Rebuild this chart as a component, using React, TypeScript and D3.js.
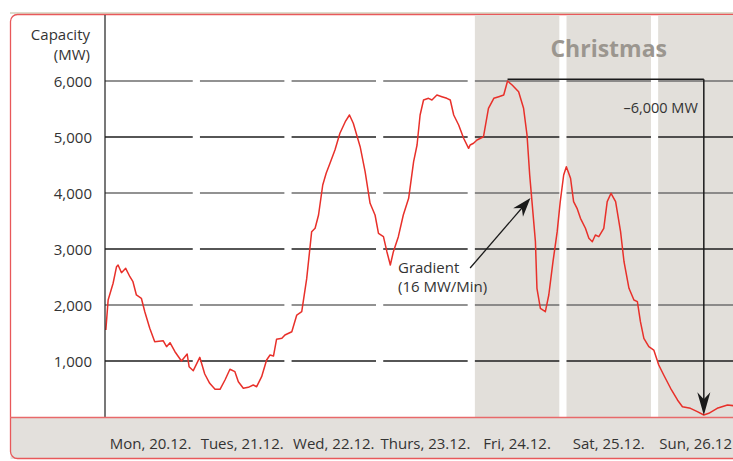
import React from 'react';
import * as d3 from 'd3';

// hours since Mon 20.12. 00:00
const hours = [
  0.3, 0.9, 2.2, 3.1, 3.5, 4.4, 5.5, 6.6, 7.4, 8.3, 9.6, 10.5, 11.8, 13.1, 15.3, 16.2, 17.1, 18.4,
  20.1, 21.6, 22.1, 23.2, 24.9, 26.2, 27.5, 28.9, 30.2, 31.5, 32.8, 34.1, 35.0, 36.3, 37.6, 38.9,
  39.8, 41.1, 42.4, 43.3, 44.2, 45.0, 46.4, 47.2, 49.0, 50.3, 51.6, 52.9, 54.2, 55.1, 56.0, 57.1,
  58.0, 59.0, 60.3, 61.6, 63.0, 64.1, 65.1, 66.9, 68.2, 69.5, 70.8, 71.7, 73.0, 73.9, 74.8, 75.6,
  76.9, 78.2, 79.6, 80.9, 81.8, 82.6, 83.5, 84.8, 85.7, 87.0, 88.3, 89.6, 90.5, 91.4, 92.7, 94.0,
  95.3, 95.7, 96.6, 97.5, 99.2, 100.5, 101.9, 103.2, 104.5, 105.5, 106.7, 108.4, 109.7, 110.6,
  111.3, 111.9, 112.8, 113.2, 114.1, 115.4, 116.3, 117.4, 118.5, 119.3, 120.2, 120.9, 122.0,
  122.8, 123.7, 124.6, 125.9, 126.8, 127.7, 128.5, 129.4, 130.7, 131.6, 132.6, 133.8, 135.1,
  136.0, 137.3, 138.6, 139.5, 140.3, 141.2, 142.5, 143.8, 145.1, 146.4, 148.2, 150.0, 151.3,
  153.4, 155.2, 156.9, 158.2, 160.4, 163.1, 164.7,
];

const capacityMW = [
  1554, 2089, 2388, 2684, 2714, 2577, 2655, 2505, 2416, 2179, 2120, 1880, 1584, 1345, 1363, 1255, 1327, 1166,
  1000, 1125, 898, 827, 1066, 768, 602, 495, 495, 661, 852, 809, 630, 513, 530, 571,
  541, 720, 1018, 1107, 1089, 1388, 1405, 1464, 1523, 1821, 1880, 2470, 3309, 3370, 3607, 4143,
  4352, 4530, 4768, 5066, 5273, 5393, 5245, 4827, 4380, 3816, 3607, 3280, 3220, 2952, 2714, 2952,
  3220, 3607, 3905, 4559, 4857, 5393, 5661, 5691, 5661, 5750, 5720, 5691, 5661, 5393, 5214, 4977,
  4798, 4857, 4888, 4946, 5005, 5512, 5691, 5720, 5750, 6000, 5929, 5809, 5512, 5036,
  4321, 3845, 3130, 2298, 1941, 1880, 2179, 2773, 3309, 3845, 4321, 4470, 4263,
  3845, 3727, 3548, 3370, 3191, 3130, 3250, 3220, 3370, 3845, 3995, 3845, 3309,
  2773, 2298, 2089, 2059, 1702, 1405, 1255, 1196, 929, 750, 513, 304, 184,
  155, 95, 36, 66, 155, 214, 202,
];

const dayLabels = ['Mon, 20.12.', 'Tues, 21.12.', 'Wed, 22.12.', 'Thurs, 23.12.', 'Fri, 24.12.', 'Sat, 25.12.', 'Sun, 26.12'];
const christmasDays = [4, 5, 6];
const yTicks = [1000, 2000, 3000, 4000, 5000, 6000];

// annotations
const dropStartHour = 105.5;
const dropEndHour = 156.9;
const dropTopMW = 6030;
const dropBottomMW = 30;
const gradientTail = { h: 95.7, mw: 2660 };
const gradientHead = { h: 111.5, mw: 3910 };

const W = 733;
const H = 461;
const plotLeft = 105;
const plotRight = 733;
const plotTop = 15;
const plotBottom = 417;
const gap = 3.6;

const font = "'Open Sans', 'Noto Sans', sans-serif";

const x = d3.scaleLinear().domain([0, 168]).range([104.7, 746.2]);
const y = d3.scaleLinear().domain([0, 6000]).range([plotBottom, 81]);

function arrowHead(tip: [number, number], from: [number, number], len: number, halfW: number) {
  const dx = tip[0] - from[0];
  const dy = tip[1] - from[1];
  const d = Math.hypot(dx, dy);
  const ux = dx / d;
  const uy = dy / d;
  const bx = tip[0] - ux * len;
  const by = tip[1] - uy * len;
  const nx = tip[0] - ux * len * 0.7;
  const ny = tip[1] - uy * len * 0.7;
  return `M${tip[0]},${tip[1]}L${bx - uy * halfW},${by + ux * halfW}L${nx},${ny}L${bx + uy * halfW},${by - ux * halfW}Z`;
}

const App: React.FC = () => {
  const pts: [number, number][] = hours.map((h, i) => [h, capacityMW[i]]);
  const line = d3.line<[number, number]>()
    .x(d => x(d[0]))
    .y(d => y(d[1]));

  const days = d3.range(7);
  const dayStart = (i: number) => x(i * 24);
  const dayEnd = (i: number) => x((i + 1) * 24);

  const bx = x(dropEndHour);
  const tipY = y(dropBottomMW);
  const gTail: [number, number] = [x(gradientTail.h), y(gradientTail.mw)];
  const gHead: [number, number] = [x(gradientHead.h), y(gradientHead.mw)];

  return (
    <svg width={W} height={H} style={{ display: 'block', position: 'absolute', left: 0, top: 0 }}>
      <defs>
        <clipPath id="plot">
          <rect x={plotLeft} y={plotTop} width={plotRight - plotLeft} height={plotBottom - plotTop} />
        </clipPath>
      </defs>
      <rect x={0} y={0} width={W} height={H} fill="#fff" />
      {/* frame */}
      <rect x={10} y={12} width={740} height={2} fill="#dcdccc" />
      <rect x={10.5} y={plotBottom} width={740} height={H - plotBottom - 2} fill="#e3e0dc" />
      <rect x={10.5} y={14.5} width={740} height={444} rx={7} fill="none" stroke="#e8585a" strokeWidth={1.3} />

      <g clipPath="url(#plot)">
        {christmasDays.map(i => (
          <rect key={i} x={dayStart(i) + gap} y={plotTop} width={dayEnd(i) - dayStart(i) - 2 * gap}
            height={plotBottom - plotTop} fill="#e2dfda" />
        ))}
        {yTicks.map((t, ti) =>
          days.map(i => (
            <line key={`${t}-${i}`} x1={i === 0 ? plotLeft : dayStart(i) + gap} x2={dayEnd(i) - gap}
              y1={y(t)} y2={y(t)} stroke={ti % 2 === 0 ? '#1e1e1e' : '#6e6e6e'} strokeWidth={1.3} />
          ))
        )}
        <path d={line(pts) || ''} fill="none" stroke="#e8302a" strokeWidth={1.5} strokeLinejoin="round" />
      </g>

      {/* axes */}
      <line x1={plotLeft} x2={plotLeft} y1={plotTop} y2={plotBottom} stroke="#1e1e1e" strokeWidth={1.2} />
      <line x1={10} x2={W} y1={plotBottom + 0.5} y2={plotBottom + 0.5} stroke="#e8696a" strokeWidth={1.5} />

      <g fontFamily={font} fontSize={15} fill="#333">
        <text x={90} y={40} textAnchor="end">Capacity</text>
        <text x={90} y={60} textAnchor="end">(MW)</text>
        {yTicks.map(t => (
          <text key={t} x={92} y={y(t) + 5.5} textAnchor="end">{d3.format(',')(t)}</text>
        ))}
        {dayLabels.map((l, i) => (
          i < 6
            ? <text key={l} x={(dayStart(i) + dayEnd(i)) / 2} y={449} textAnchor="middle">{l}</text>
            : <text key={l} x={W - 1} y={449} textAnchor="end">{l}</text>
        ))}
      </g>

      <text x={x(132)} y={57} textAnchor="middle" fontFamily={font} fontSize={23} fontWeight={700} fill="#9b968f">Christmas</text>

      {/* -6,000 MW bracket */}
      <g stroke="#1a1a1a" strokeWidth={1.5} fill="none">
        <line x1={x(dropStartHour)} x2={bx} y1={y(dropTopMW)} y2={y(dropTopMW)} />
        <line x1={bx} x2={bx} y1={y(dropTopMW)} y2={tipY - 10} />
      </g>
      <path d={arrowHead([bx, tipY], [bx, y(dropTopMW)], 23, 6.5)} fill="#1a1a1a" />
      <text x={bx - 6} y={113} textAnchor="end" fontFamily={font} fontSize={14.5} fill="#333">–6,000 MW</text>

      {/* gradient arrow */}
      <line x1={gTail[0]} y1={gTail[1]} x2={gHead[0] - 6} y2={gHead[1] + 7} stroke="#1a1a1a" strokeWidth={1.3} />
      <path d={arrowHead(gHead, gTail, 19, 6.5)} fill="#1a1a1a" />
      <g fontFamily={font} fontSize={15} fill="#333">
        <text x={398} y={273}>Gradient</text>
        <text x={398} y={292}>(16 MW/Min)</text>
      </g>
    </svg>
  );
};

export default App;
